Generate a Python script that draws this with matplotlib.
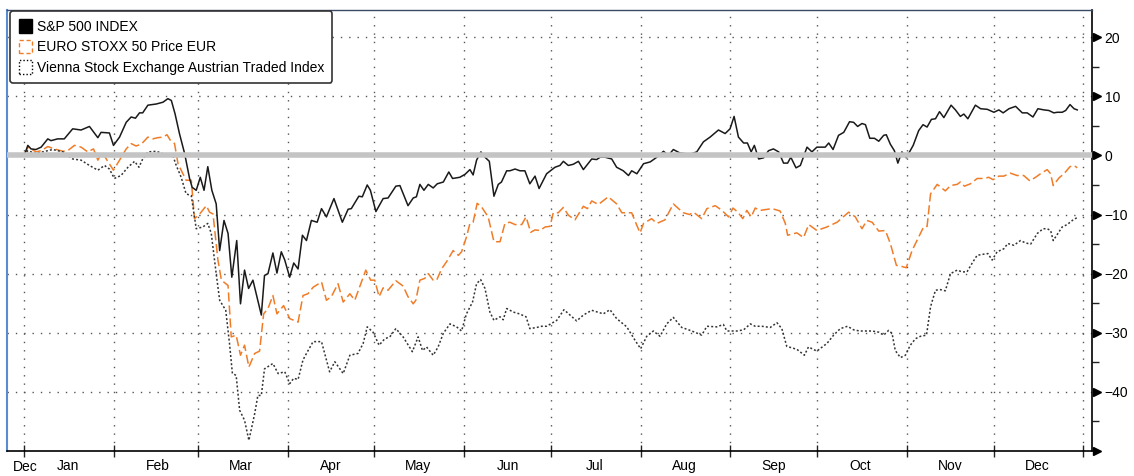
import numpy as np
import pandas as pd
import matplotlib
matplotlib.use("Agg")
import matplotlib.pyplot as plt
import matplotlib.dates as mdates
import matplotlib.patches as mpatches
import matplotlib.transforms as mtransforms

plt.rcParams['font.family'] = ['Liberation Sans', 'DejaVu Sans']
FS = 10

# days since 2020-01-01, % change
spx_day = [0.0, 1.2, 2.3, 4.0, 5.8, 8.1, 9.2, 11.5, 13.8, 16.7, 19.6, 22.5, 25.4, 26.5, 29.4, 30.8, 32.9,
           35.2, 36.9, 38.4, 39.8, 40.9, 42.7, 45.6, 47.9, 49.6, 50.8, 52.1, 53.6, 55.4, 57.1, 58.0, 59.4,
           60.8, 62.1, 63.4, 64.8, 66.3, 67.5, 69.0, 70.4, 71.7, 73.4, 74.7, 76.1, 77.5, 79.0, 81.9, 83.0,
           84.2, 85.9, 87.3, 88.8, 90.0, 91.7, 93.1, 94.6, 96.1, 97.5, 99.2, 101.2, 102.7, 104.4, 107.0,
           109.9, 111.9, 113.0, 115.6, 116.8, 118.5, 119.6, 121.5, 124.0, 125.7, 128.4, 129.8, 132.6, 134.4,
           135.5, 136.7, 138.1, 139.6, 141.3, 142.7, 144.8, 146.7, 148.0, 150.5, 152.3, 154.0, 155.1, 156.3,
           157.8, 159.2, 160.7, 162.3, 163.8, 164.9, 166.7, 167.8, 169.6, 171.3, 173.0, 174.7, 176.5, 177.9,
           180.5, 183.4, 185.1, 186.3, 188.0, 189.7, 191.5, 193.2, 196.1, 197.8, 199.0, 200.7, 203.0, 204.7,
           207.0, 208.8, 209.9, 211.7, 214.0, 216.3, 218.6, 220.9, 222.6, 224.3, 226.6, 230.1, 232.4, 234.7,
           237.0, 239.9, 242.2, 243.9, 245.3, 246.8, 248.6, 249.9, 251.2, 252.3, 253.8, 255.5, 257.2, 258.9,
           260.7, 262.4, 263.8, 264.9, 266.7, 268.2, 270.5, 272.2, 273.9, 276.8, 278.0, 279.5, 281.4, 283.2,
           285.2, 286.6, 288.0, 289.5, 290.7, 292.2, 293.8, 295.3, 297.0, 297.9, 299.3, 300.7, 301.9, 303.3,
           304.8, 307.2, 309.1, 310.6, 312.0, 313.5, 314.9, 316.3, 317.8, 320.3, 321.8, 323.5, 324.7, 326.1,
           328.7, 330.5, 332.8, 335.1, 336.8, 338.3, 340.3, 342.6, 344.9, 346.6, 348.6, 350.3, 352.4, 354.1,
           355.8, 357.0, 358.7, 359.9, 361.4, 362.8, 363.9]
spx_val = [0.0, 1.7, 1.1, 1.0, 1.4, 2.8, 2.5, 2.8, 2.8, 4.5, 4.3, 4.9, 3.0, 3.9, 3.8, 1.7, 3.1,
           5.6, 6.5, 6.3, 7.2, 7.2, 8.5, 8.7, 9.0, 9.6, 9.3, 7.0, 3.7, 0.3, -3.9, -5.4, -5.9,
           -3.7, -5.9, -1.9, -5.9, -8.2, -16.1, -11.0, -13.2, -20.6, -14.4, -25.1, -19.4, -22.5, -21.1, -27.0, -20.3,
           -20.0, -16.5, -19.9, -16.3, -17.7, -20.6, -18.2, -19.2, -13.5, -14.4, -11.0, -11.3, -9.0, -10.4, -7.3,
           -11.3, -9.1, -9.0, -6.9, -7.0, -5.0, -5.9, -9.5, -7.3, -7.2, -5.2, -5.1, -8.5, -7.2,
           -7.0, -4.9, -5.9, -4.9, -5.5, -4.8, -4.5, -2.8, -3.9, -3.7, -3.2, -2.4, -3.3, -0.8,
           0.6, -0.3, -1.0, -6.9, -4.9, -4.5, -2.6, -2.6, -2.3, -2.6, -2.6, -4.8, -3.5, -5.6,
           -3.1, -2.0, -1.7, -1.0, -1.7, -1.5, -1.0, -2.4, -0.6, -0.7, -0.3, -0.3, -0.6, -2.0,
           -2.6, -3.4, -2.6, -3.1, -1.4, -1.1, -0.3, 0.7, 0.0, 1.0, 0.4, 0.2, 0.6, 2.3,
           3.1, 4.3, 3.7, 4.5, 6.6, 3.1, 2.1, 2.1, 0.6, 1.7, -0.6, -0.4, 0.8, 1.1,
           0.6, -1.3, -1.3, -0.3, -2.1, -1.7, 1.4, 0.6, 1.4, 1.4, 2.1, 1.0, 3.4, 3.9,
           5.7, 5.6, 4.9, 5.4, 5.2, 2.9, 2.9, 2.4, 3.4, 3.5, 1.9, 0.8, -1.3, 0.6,
           -0.4, 1.7, 4.2, 5.2, 4.8, 6.1, 6.2, 7.4, 6.4, 8.5, 7.7, 6.6, 7.0, 6.2,
           8.5, 7.9, 7.8, 7.3, 7.7, 7.2, 7.9, 8.3, 7.2, 7.2, 6.5, 7.9, 7.7, 7.6,
           7.2, 7.3, 7.3, 7.6, 8.6, 7.9, 7.7]

sx5e_day = [0.0, 1.2, 2.3, 4.0, 5.8, 8.1, 10.4, 13.3, 15.0, 17.3, 19.6, 21.9, 23.9, 25.4, 26.9, 28.3, 30.8,
            32.9, 35.2, 36.9, 38.6, 40.4, 42.7, 44.4, 46.1, 47.9, 49.3, 50.4, 51.9, 53.1, 54.2, 55.9, 57.7,
            58.8, 60.6, 62.9, 64.0, 65.2, 66.9, 68.1, 70.4, 71.5, 73.2, 74.7, 76.1, 77.6, 79.6, 81.3, 82.7,
            84.2, 85.9, 87.3, 89.6, 91.7, 94.6, 96.3, 98.0, 99.8, 102.7, 104.4, 106.1, 108.4, 110.2, 112.5,
            114.2, 118.0, 119.7, 121.1, 122.6, 124.0, 125.7, 128.4, 130.9, 132.6, 134.4, 135.3, 136.7, 138.4,
            139.6, 141.3, 142.5, 144.2, 145.9, 148.2, 150.0, 151.1, 152.8, 154.0, 155.1, 156.5, 158.0, 160.3,
            162.3, 164.4, 166.1, 167.8, 169.6, 171.9, 173.4, 175.0, 176.5, 178.2, 180.0, 181.7, 182.8, 184.5,
            186.3, 188.0, 190.3, 193.2, 194.6, 196.1, 198.4, 201.8, 204.7, 206.5, 209.9, 211.4, 212.8, 214.0,
            216.8, 218.6, 221.4, 224.3, 226.1, 227.8, 229.9, 231.3, 234.1, 235.9, 238.8, 241.1, 243.4, 244.9,
            246.6, 248.3, 249.7, 251.2, 252.6, 254.3, 258.4, 261.2, 263.0, 263.8, 267.0, 269.3, 271.1, 273.9,
            277.4, 280.9, 284.9, 287.2, 289.5, 291.2, 293.0, 295.3, 297.6, 299.3, 301.4, 303.4, 304.8, 306.8,
            309.1, 310.8, 312.0, 313.2, 315.5, 318.3, 320.1, 322.4, 323.5, 324.9, 327.0, 329.3, 331.6, 333.3,
            334.8, 336.8, 338.5, 340.8, 343.1, 345.4, 347.5, 349.5, 351.2, 353.5, 354.7, 355.6, 357.6, 359.3,
            361.4, 362.8, 363.9]
sx5e_val = [0.2, 1.4, 1.1, 0.6, 0.8, 1.5, 1.1, 0.7, 0.8, 1.7, 1.4, 0.6, 1.1, -0.8, 0.6, -0.6, -2.5,
            -0.8, 1.1, 2.0, 1.6, 1.9, 3.1, 2.8, 3.0, 3.1, 3.5, 2.6, 2.0, -1.4, -2.5, -4.2, -4.2,
            -10.7, -9.9, -8.5, -9.6, -9.9, -17.7, -21.1, -22.0, -30.7, -30.4, -33.8, -32.1, -35.8, -33.5, -33.1, -26.8,
            -25.9, -23.7, -26.8, -25.4, -27.6, -28.2, -23.7, -23.4, -22.3, -21.4, -24.5, -23.9, -21.7, -24.8, -23.4,
            -24.5, -19.4, -21.1, -21.1, -23.9, -22.4, -22.8, -21.2, -22.1, -23.9, -25.1, -24.5, -21.1, -20.8,
            -20.0, -21.1, -21.1, -19.2, -18.0, -16.1, -16.9, -16.3, -13.8, -11.5, -11.3, -8.1, -8.7, -10.4,
            -14.6, -14.6, -11.5, -11.3, -11.7, -11.7, -10.4, -13.0, -12.6, -12.7, -12.1, -12.0, -9.7, -9.7,
            -8.8, -10.1, -10.9, -8.6, -9.0, -7.7, -8.3, -7.0, -8.2, -9.7, -9.7, -11.5, -13.1, -11.5,
            -10.7, -11.5, -10.9, -8.2, -9.0, -9.7, -10.0, -9.6, -10.7, -9.0, -8.5, -9.3, -10.4, -8.9,
            -9.6, -10.7, -9.3, -10.4, -8.9, -9.3, -9.0, -9.4, -11.5, -13.5, -13.1, -13.9, -11.7, -12.7,
            -12.1, -11.3, -9.6, -10.4, -12.4, -11.0, -11.3, -12.8, -12.7, -14.9, -18.6, -18.8, -19.0, -16.1,
            -13.8, -12.1, -12.0, -6.5, -4.9, -6.0, -5.1, -4.9, -4.5, -5.2, -4.8, -3.9, -3.9, -3.7,
            -4.1, -3.5, -3.5, -3.0, -3.4, -3.4, -4.3, -3.7, -3.1, -2.4, -3.1, -5.1, -3.8, -3.1,
            -1.9, -1.7, -2.1]

atx_day = [0.0, 1.2, 4.0, 6.3, 9.8, 13.3, 16.7, 19.6, 22.5, 25.4, 27.7, 29.4, 31.1, 33.4, 35.8, 38.1, 39.6,
           40.9, 42.7, 45.6, 47.3, 49.0, 51.3, 52.5, 54.2, 55.9, 57.7, 59.4, 61.7, 63.4, 64.6, 66.3, 67.5,
           69.6, 70.9, 71.9, 73.2, 74.4, 76.1, 77.6, 79.6, 80.7, 81.9, 83.0, 85.9, 87.7, 90.0, 91.7, 93.1,
           94.6, 96.3, 97.5, 99.8, 102.7, 105.5, 107.3, 110.2, 112.5, 115.3, 117.1, 118.5, 120.5, 122.6, 124.6,
           126.3, 128.4, 130.9, 134.1, 136.1, 137.6, 139.0, 141.3, 143.0, 144.8, 147.1, 149.4, 151.1, 152.8,
           154.9, 156.3, 157.7, 159.2, 160.9, 162.3, 164.4, 165.5, 166.7, 169.0, 171.1, 173.4, 174.7, 177.1,
           178.8, 180.5, 184.0, 186.5, 188.6, 190.9, 193.2, 196.1, 200.1, 202.4, 204.7, 208.2, 211.1, 213.0,
           215.1, 217.4, 219.7, 222.0, 224.3, 227.2, 230.7, 234.1, 235.9, 239.3, 241.6, 242.8, 246.3, 248.6,
           250.9, 252.6, 254.9, 257.8, 260.1, 261.8, 263.5, 267.0, 269.6, 271.0, 273.9, 277.4, 279.7, 282.0,
           284.5, 286.6, 288.7, 291.2, 293.0, 295.3, 297.0, 298.7, 299.9, 301.0, 302.8, 304.5, 306.2, 308.0,
           309.7, 311.8, 313.2, 314.9, 316.6, 318.3, 320.1, 322.4, 324.1, 325.8, 327.6, 329.3, 331.6, 333.0,
           334.5, 336.2, 338.5, 339.9, 342.0, 344.3, 346.0, 347.8, 350.1, 352.1, 353.5, 354.7, 355.6, 357.2,
           358.7, 360.4, 362.2, 363.9]
atx_val = [0.0, 0.8, 0.3, 0.6, 1.0, 0.6, -0.6, -0.8, -1.7, -2.5, -1.7, -2.3, -3.9, -3.4, -2.0, -1.0, -2.0,
           -0.6, 0.6, 0.7, 0.4, 0.0, 0.0, -1.7, -3.7, -6.5, -6.8, -12.4, -12.1, -11.5, -13.2, -20.0, -24.5,
           -26.2, -31.8, -36.9, -37.2, -43.1, -44.8, -48.2, -43.7, -40.6, -40.6, -36.1, -35.2, -36.9, -36.6, -38.6, -37.7,
           -37.9, -34.6, -33.5, -31.5, -31.5, -36.6, -34.9, -36.9, -33.8, -33.5, -31.8, -29.0, -29.9, -32.1, -31.0,
           -30.7, -29.3, -30.7, -33.2, -30.7, -33.0, -32.4, -33.8, -32.4, -30.1, -28.5, -29.0, -29.7, -26.8,
           -24.8, -21.7, -21.0, -22.5, -26.5, -27.9, -27.3, -27.8, -25.9, -26.5, -26.8, -27.3, -29.3, -29.1,
           -28.9, -28.9, -27.9, -26.1, -27.0, -28.0, -27.0, -26.2, -26.8, -26.1, -27.6, -29.0, -31.3, -32.7,
           -30.6, -29.7, -30.6, -28.5, -27.4, -29.1, -29.7, -30.4, -28.9, -29.0, -28.6, -29.7, -29.7, -29.5,
           -28.5, -28.9, -28.9, -29.1, -28.3, -29.3, -32.3, -32.8, -33.8, -32.4, -33.1, -31.8, -30.4, -29.3,
           -28.9, -29.5, -29.7, -29.7, -29.7, -29.9, -30.4, -29.6, -30.1, -33.0, -34.2, -33.8, -32.1, -31.0,
           -30.6, -30.4, -25.6, -22.8, -22.7, -22.9, -20.0, -19.4, -19.7, -19.7, -18.2, -16.9, -16.7, -16.6,
           -17.7, -16.3, -15.8, -14.9, -15.2, -14.4, -14.8, -15.0, -13.2, -12.4, -12.4, -12.7, -14.4, -13.2,
           -12.1, -11.7, -11.0, -10.5]

names = ['S&P 500 INDEX', 'EURO STOXX 50 Price EUR', 'Vienna Stock Exchange Austrian Traded Index']
yticks = [20, 10, 0, -10, -20, -30, -40]

orange = '#f07c28'
base = pd.Timestamp('2020-01-01')


def to_dates(days):
    return base + pd.to_timedelta(np.array(days), unit='D')


fig = plt.figure(figsize=(11.34, 4.76), dpi=100)
ax = fig.add_axes([7 / 1134, 25 / 476, 1085 / 1134, 441 / 476])

ax.plot(to_dates(spx_day), spx_val, color='#1a1a1a', lw=1.1, zorder=4)
ax.plot(to_dates(sx5e_day), sx5e_val, color=orange, lw=1.1, ls=(0, (6, 2.5)), zorder=3)
ax.plot(to_dates(atx_day), atx_val, color='#333333', lw=1.1, ls=(0, (1.3, 1.4)), zorder=3)

ax.axhline(0, color='#c4c4c4', lw=4, zorder=5)

ax.set_xlim(pd.Timestamp('2019-12-26'), pd.Timestamp('2021-01-04'))
ax.set_ylim(-50, 24.6)

# x axis: month boundaries as ticks/grid, names mid-month
ax.xaxis.set_major_locator(mdates.MonthLocator())
ax.xaxis.set_major_formatter(plt.NullFormatter())
ax.xaxis.set_minor_locator(mdates.MonthLocator(bymonthday=16))
ax.xaxis.set_minor_formatter(mdates.DateFormatter('%b'))
ax.tick_params(axis='x', which='major', direction='inout', length=8, width=1, color='#222')
ax.tick_params(axis='x', which='minor', length=0, pad=6, labelsize=FS)
ax.text(0.005, -0.02, 'Dec', transform=ax.transAxes, ha='left', va='top', fontsize=FS)

# y axis on the right with triangle markers
ax.yaxis.tick_right()
ax.set_yticks(yticks)
ax.set_yticks(np.arange(-45, 24, 5), minor=True)
ax.tick_params(axis='y', which='major', length=0, pad=9, labelsize=FS)
ax.tick_params(axis='y', which='minor', direction='out', length=5, width=1, color='#222')
trans = mtransforms.blended_transform_factory(ax.transAxes, ax.transData)
ax.plot([1.0042] * (len(yticks) + 1), yticks + [-50], transform=trans, marker='>', ms=6,
        ls='none', color='black', clip_on=False, zorder=6)

ax.grid(which='major', color='#555', ls=(0, (1, 5)), lw=1)
ax.set_axisbelow(True)

for side in ['right', 'bottom']:
    ax.spines[side].set_color('black')
    ax.spines[side].set_linewidth(1.2)
ax.spines['left'].set_color('#5b8bd0')
ax.spines['left'].set_linewidth(1.5)
ax.spines['top'].set_color('#3a4a66')
ax.spines['top'].set_linewidth(1)

handles = [
    mpatches.Patch(facecolor='black', edgecolor='black'),
    mpatches.Patch(facecolor='none', edgecolor=orange, ls=(0, (3, 2)), lw=1),
    mpatches.Patch(facecolor='none', edgecolor='black', ls=(0, (1, 1.5)), lw=1),
]
leg = ax.legend(handles, names, loc='upper left', bbox_to_anchor=(0.003, 0.998), borderaxespad=0,
                fontsize=FS, handlelength=1.0, handleheight=1.1, handletextpad=0.3, borderpad=0.6,
                labelspacing=0.45, fancybox=True, framealpha=1, edgecolor='#333')
leg.get_frame().set_linewidth(1.2)
leg.set_zorder(10)

fig.savefig('out.png', dpi=100)
